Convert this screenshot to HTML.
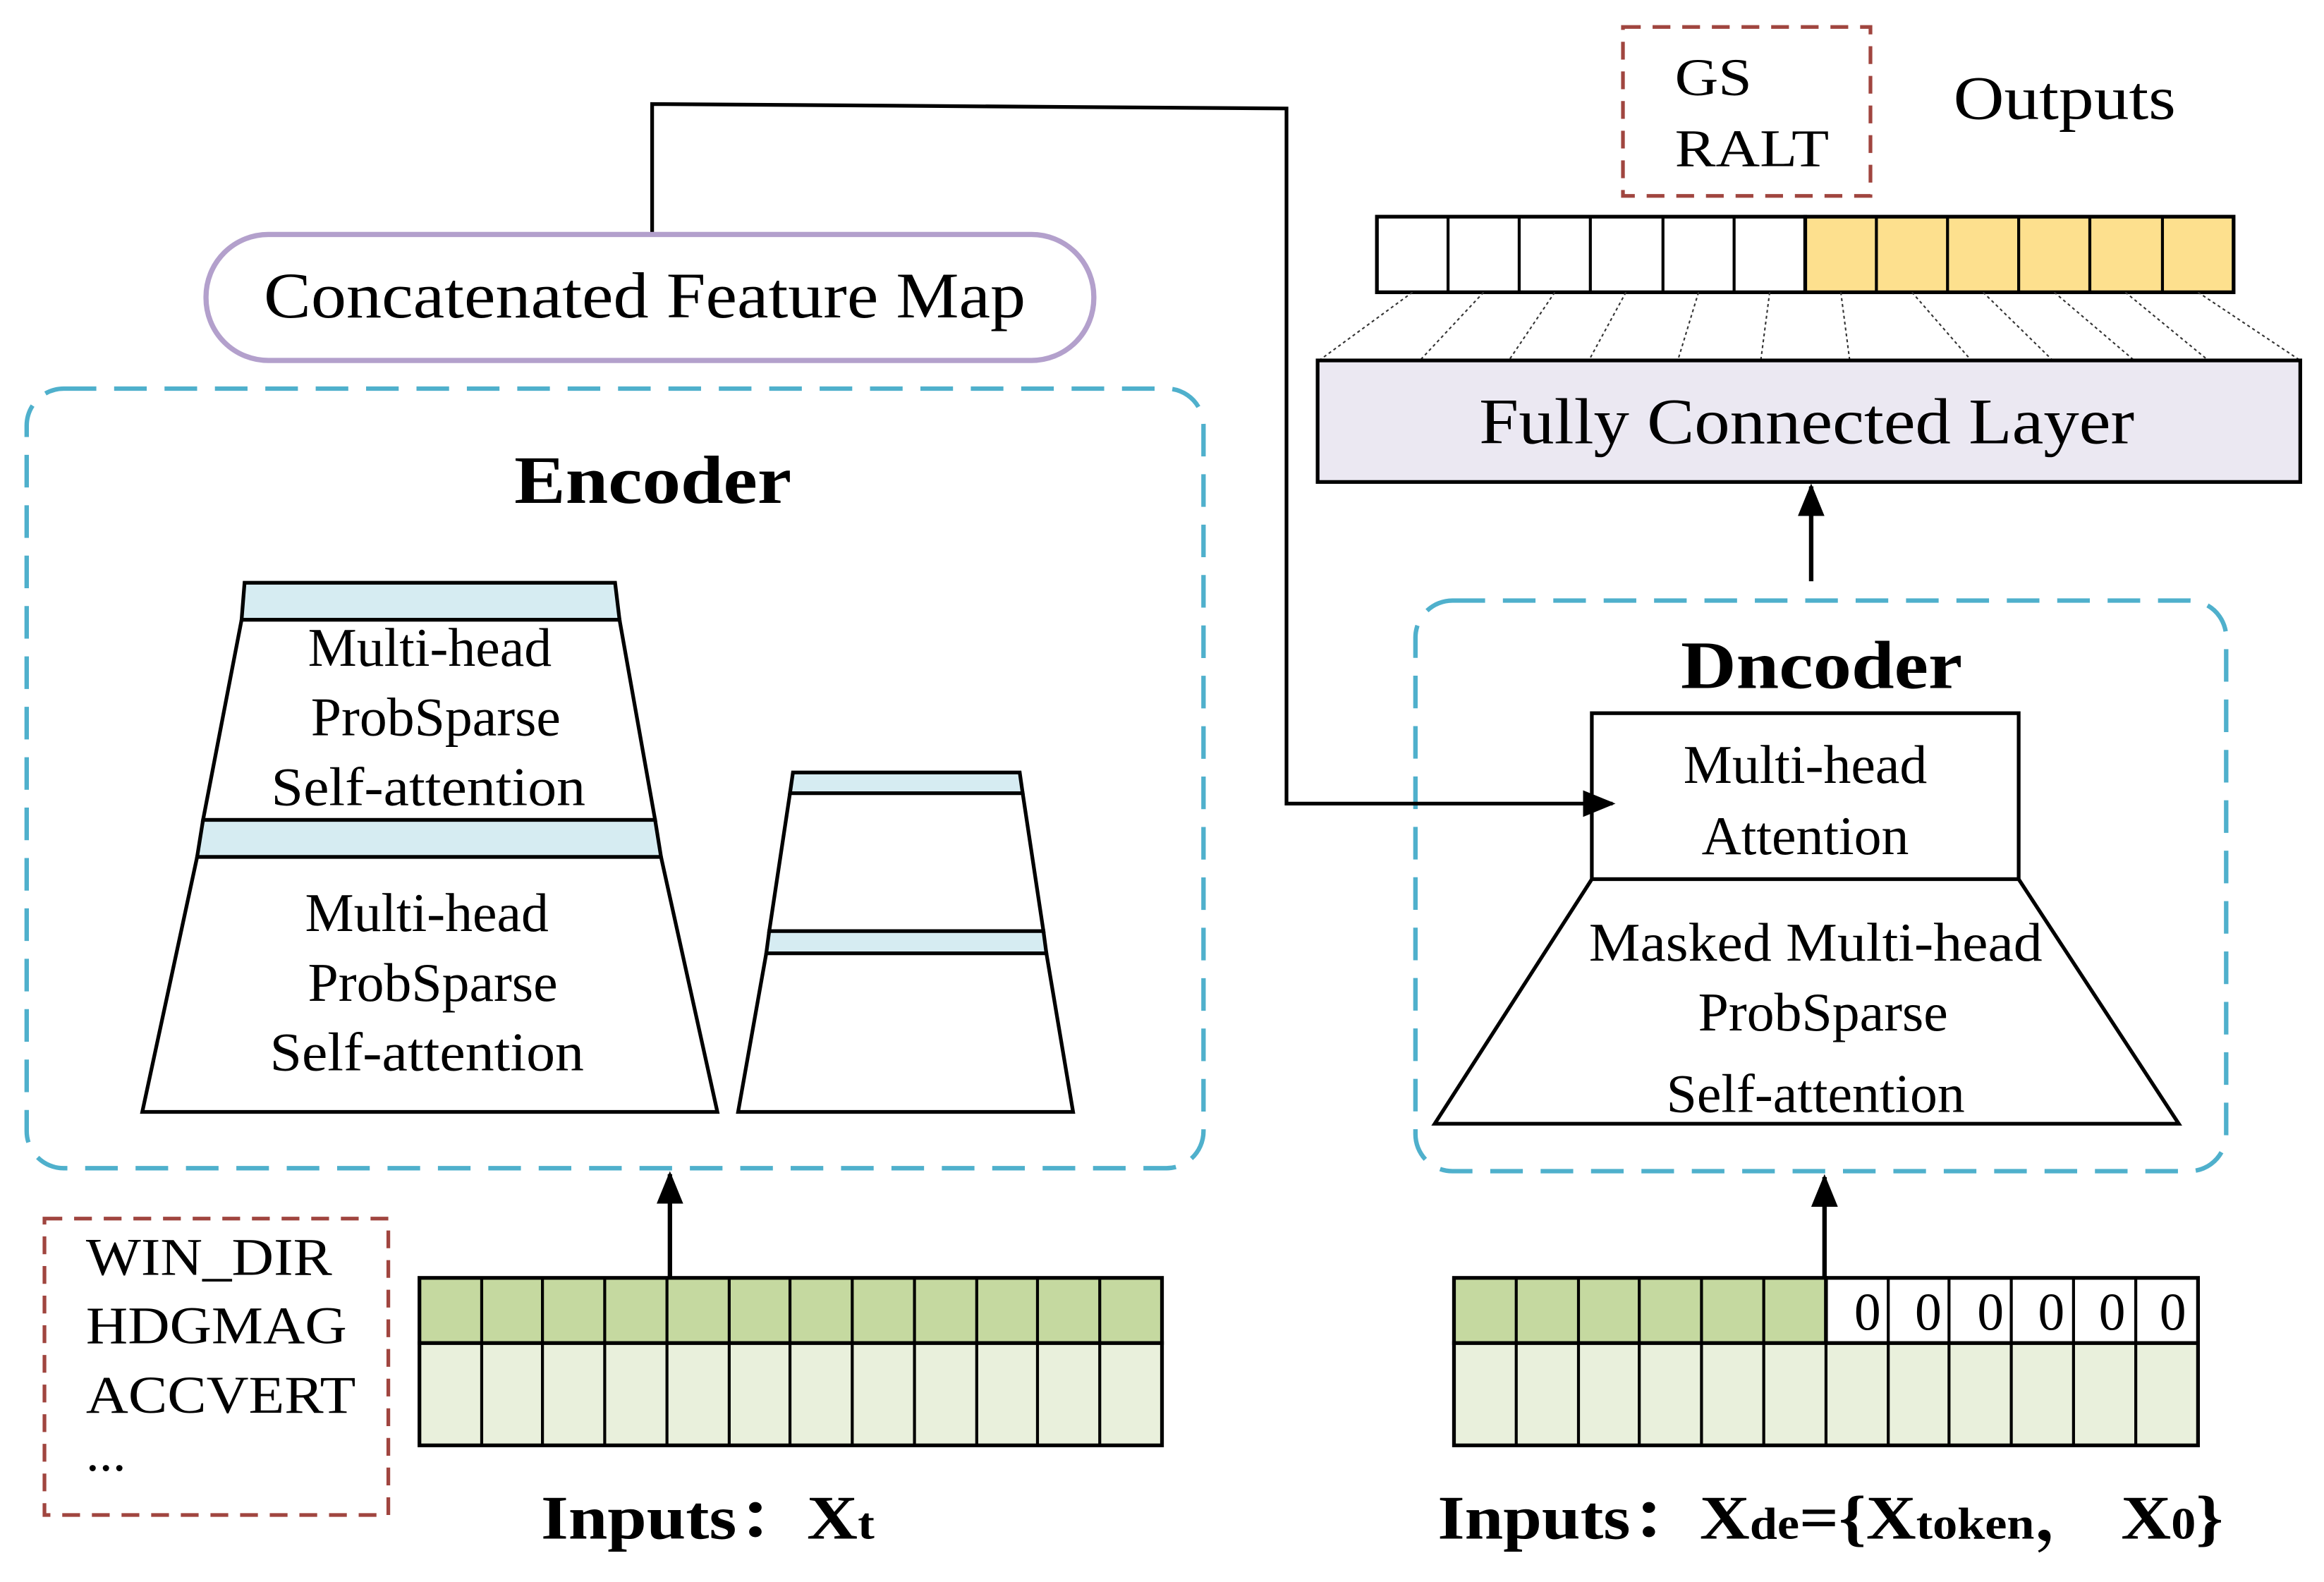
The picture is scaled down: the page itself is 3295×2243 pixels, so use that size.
<!DOCTYPE html>
<html><head><meta charset="utf-8"><style>html,body{margin:0;padding:0;background:#fff}svg{display:block}</style></head>
<body>
<svg width="3295" height="2243" viewBox="0 0 1568 1067" xmlns="http://www.w3.org/2000/svg" font-family="Liberation Serif, serif">
<defs>
<marker id="ah2" markerWidth="22" markerHeight="22" refX="20" refY="11" orient="auto" markerUnits="userSpaceOnUse"><path d="M0,2 L22,11 L0,20 z" fill="#000"/></marker></defs>
<rect width="1568" height="1067" fill="#fff"/>
<rect x="1095" y="18" width="167" height="114" fill="none" stroke="#a0453f" stroke-width="2.5" stroke-dasharray="12,8"/>
<text x="1130" y="64" font-size="36" textLength="52" lengthAdjust="spacingAndGlyphs">GS</text>
<text x="1130" y="112" font-size="36" textLength="104" lengthAdjust="spacingAndGlyphs">RALT</text>
<text x="1318" y="80" font-size="42" textLength="150" lengthAdjust="spacingAndGlyphs">Outputs</text>
<g stroke="#000" stroke-width="2.5">
<rect x="929" y="146" width="289" height="51" fill="#fff"/>
<rect x="1218" y="146" width="289" height="51" fill="#fde08e"/>
</g>
<g stroke="#000" stroke-width="2">
<line x1="977" y1="146" x2="977" y2="197"/><line x1="1025" y1="146" x2="1025" y2="197"/><line x1="1073" y1="146" x2="1073" y2="197"/><line x1="1122" y1="146" x2="1122" y2="197"/><line x1="1170" y1="146" x2="1170" y2="197"/>
<line x1="1266" y1="146" x2="1266" y2="197"/><line x1="1314" y1="146" x2="1314" y2="197"/><line x1="1362" y1="146" x2="1362" y2="197"/><line x1="1410" y1="146" x2="1410" y2="197"/><line x1="1459" y1="146" x2="1459" y2="197"/>
</g>
<g stroke="#333" stroke-width="1" stroke-dasharray="2,2">
<line x1="953" y1="197" x2="890" y2="243"/><line x1="1001" y1="197" x2="958" y2="243"/><line x1="1049" y1="197" x2="1018" y2="243"/><line x1="1097" y1="197" x2="1072" y2="243"/><line x1="1146" y1="197" x2="1132" y2="243"/><line x1="1194" y1="197" x2="1188" y2="243"/>
<line x1="1242" y1="197" x2="1248" y2="243"/><line x1="1290" y1="197" x2="1330" y2="243"/><line x1="1338" y1="197" x2="1385" y2="243"/><line x1="1386" y1="197" x2="1440" y2="243"/><line x1="1434" y1="197" x2="1490" y2="243"/><line x1="1483" y1="197" x2="1552" y2="243"/>
</g>
<rect x="889" y="243" width="663" height="82" fill="#ebe8f2" stroke="#000" stroke-width="2.5"/>
<text x="998" y="299" font-size="44" textLength="442" lengthAdjust="spacingAndGlyphs">Fully Connected Layer</text>
<line x1="1222" y1="392" x2="1222" y2="328" stroke="#000" stroke-width="3" marker-end="url(#ah2)"/>
<rect x="955" y="405" width="547" height="385" rx="25" fill="none" stroke="#4fb0cc" stroke-width="3" stroke-dasharray="22,12"/>
<text x="1134" y="464" font-size="46" font-weight="bold" textLength="190" lengthAdjust="spacingAndGlyphs">Dncoder</text>
<rect x="1074" y="481" width="288" height="112" fill="#fff" stroke="#000" stroke-width="2.5"/>
<text x="1218" y="528" font-size="37" text-anchor="middle">Multi-head</text>
<text x="1218" y="576" font-size="37" text-anchor="middle">Attention</text>
<path d="M1074,593 L1362,593 L1470,758 L968,758 Z" fill="#fff" stroke="#000" stroke-width="2.5"/>
<text x="1072" y="648" font-size="37" textLength="306" lengthAdjust="spacingAndGlyphs">Masked Multi-head</text>
<text x="1230" y="695" font-size="37" text-anchor="middle">ProbSparse</text>
<text x="1225" y="750" font-size="37" text-anchor="middle">Self-attention</text>
<polyline points="440,158 440,70 868,73 868,542 1088,542" fill="none" stroke="#000" stroke-width="2.5" marker-end="url(#ah2)"/>
<rect x="139" y="158" width="599" height="85" rx="42" fill="#fff" stroke="#b3a0cc" stroke-width="3.5"/>
<text x="178" y="214" font-size="44" textLength="514" lengthAdjust="spacingAndGlyphs">Concatenated Feature Map</text>
<rect x="18" y="262" width="794" height="526" rx="25" fill="none" stroke="#4fb0cc" stroke-width="3" stroke-dasharray="22,12"/>
<text x="347" y="339" font-size="46" font-weight="bold" textLength="187" lengthAdjust="spacingAndGlyphs">Encoder</text>
<g stroke="#000" stroke-width="2.5">
<path d="M165,393 L415,393 L418,418 L163,418 Z" fill="#d6ecf2"/>
<path d="M163,418 L418,418 L442,553 L137,553 Z" fill="#fff"/>
<path d="M137,553 L442,553 L446,578 L133,578 Z" fill="#d6ecf2"/>
<path d="M133,578 L446,578 L484,750 L96,750 Z" fill="#fff"/>
<path d="M535,521 L688,521 L690,535 L533,535 Z" fill="#d6ecf2"/>
<path d="M533,535 L690,535 L704,628 L519,628 Z" fill="#fff"/>
<path d="M519,628 L704,628 L706,643 L517,643 Z" fill="#d6ecf2"/>
<path d="M517,643 L706,643 L724,750 L498,750 Z" fill="#fff"/>
</g>
<g font-size="37" text-anchor="middle">
<text x="290" y="449">Multi-head</text><text x="294" y="496">ProbSparse</text><text x="289" y="543" textLength="212" lengthAdjust="spacingAndGlyphs">Self-attention</text>
<text x="288" y="628">Multi-head</text><text x="292" y="675">ProbSparse</text><text x="288" y="722" textLength="212" lengthAdjust="spacingAndGlyphs">Self-attention</text>
</g>
<line x1="452" y1="862" x2="452" y2="792" stroke="#000" stroke-width="3" marker-end="url(#ah2)"/>
<rect x="30" y="822" width="232" height="200" fill="none" stroke="#a0453f" stroke-width="2.5" stroke-dasharray="12,8"/>
<g font-size="36"><text x="58" y="860" textLength="166" lengthAdjust="spacingAndGlyphs">WIN_DIR</text><text x="58" y="906" textLength="176" lengthAdjust="spacingAndGlyphs">HDGMAG</text><text x="58" y="953" textLength="182" lengthAdjust="spacingAndGlyphs">ACCVERT</text><text x="58" y="992">...</text></g>
<rect x="283" y="862" width="501" height="44" fill="#c5d9a0" stroke="#000" stroke-width="2.5"/>
<rect x="283" y="906" width="501" height="69" fill="#e9f0dc" stroke="#000" stroke-width="2.5"/>
<g stroke="#000" stroke-width="2">
<line x1="325" y1="862" x2="325" y2="975"/><line x1="366" y1="862" x2="366" y2="975"/><line x1="408" y1="862" x2="408" y2="975"/><line x1="450" y1="862" x2="450" y2="975"/><line x1="492" y1="862" x2="492" y2="975"/><line x1="533" y1="862" x2="533" y2="975"/><line x1="575" y1="862" x2="575" y2="975"/><line x1="617" y1="862" x2="617" y2="975"/><line x1="659" y1="862" x2="659" y2="975"/><line x1="700" y1="862" x2="700" y2="975"/><line x1="742" y1="862" x2="742" y2="975"/>
</g>
<text x="365" y="1038" font-size="42" font-weight="bold" font-family="Liberation Serif, Noto Serif CJK SC, serif" textLength="225" lengthAdjust="spacingAndGlyphs">Inputs：X<tspan font-size="30">t</tspan></text>
<rect x="981" y="862" width="251" height="44" fill="#c5d9a0" stroke="#000" stroke-width="2.5"/>
<rect x="1232" y="862" width="251" height="44" fill="#fff" stroke="#000" stroke-width="2.5"/>
<rect x="981" y="906" width="502" height="69" fill="#e9f0dc" stroke="#000" stroke-width="2.5"/>
<g stroke="#000" stroke-width="2">
<line x1="1023" y1="862" x2="1023" y2="975"/><line x1="1065" y1="862" x2="1065" y2="975"/><line x1="1106" y1="862" x2="1106" y2="975"/><line x1="1148" y1="862" x2="1148" y2="975"/><line x1="1190" y1="862" x2="1190" y2="975"/><line x1="1232" y1="862" x2="1232" y2="975"/><line x1="1274" y1="862" x2="1274" y2="975"/><line x1="1315" y1="862" x2="1315" y2="975"/><line x1="1357" y1="862" x2="1357" y2="975"/><line x1="1399" y1="862" x2="1399" y2="975"/><line x1="1441" y1="862" x2="1441" y2="975"/>
</g>
<g font-size="36" text-anchor="middle"><text x="1260" y="897">0</text><text x="1301" y="897">0</text><text x="1343" y="897">0</text><text x="1384" y="897">0</text><text x="1425" y="897">0</text><text x="1466" y="897">0</text></g>
<line x1="1231" y1="862" x2="1231" y2="794" stroke="#000" stroke-width="3" marker-end="url(#ah2)"/>
<text x="970" y="1038" font-size="42" font-weight="bold" font-family="Liberation Serif, Noto Serif CJK SC, serif" textLength="530" lengthAdjust="spacingAndGlyphs">Inputs：X<tspan font-size="30">de</tspan>={X<tspan font-size="30">token</tspan>， X<tspan font-size="30">0</tspan>}</text>
</svg>
</body></html>
